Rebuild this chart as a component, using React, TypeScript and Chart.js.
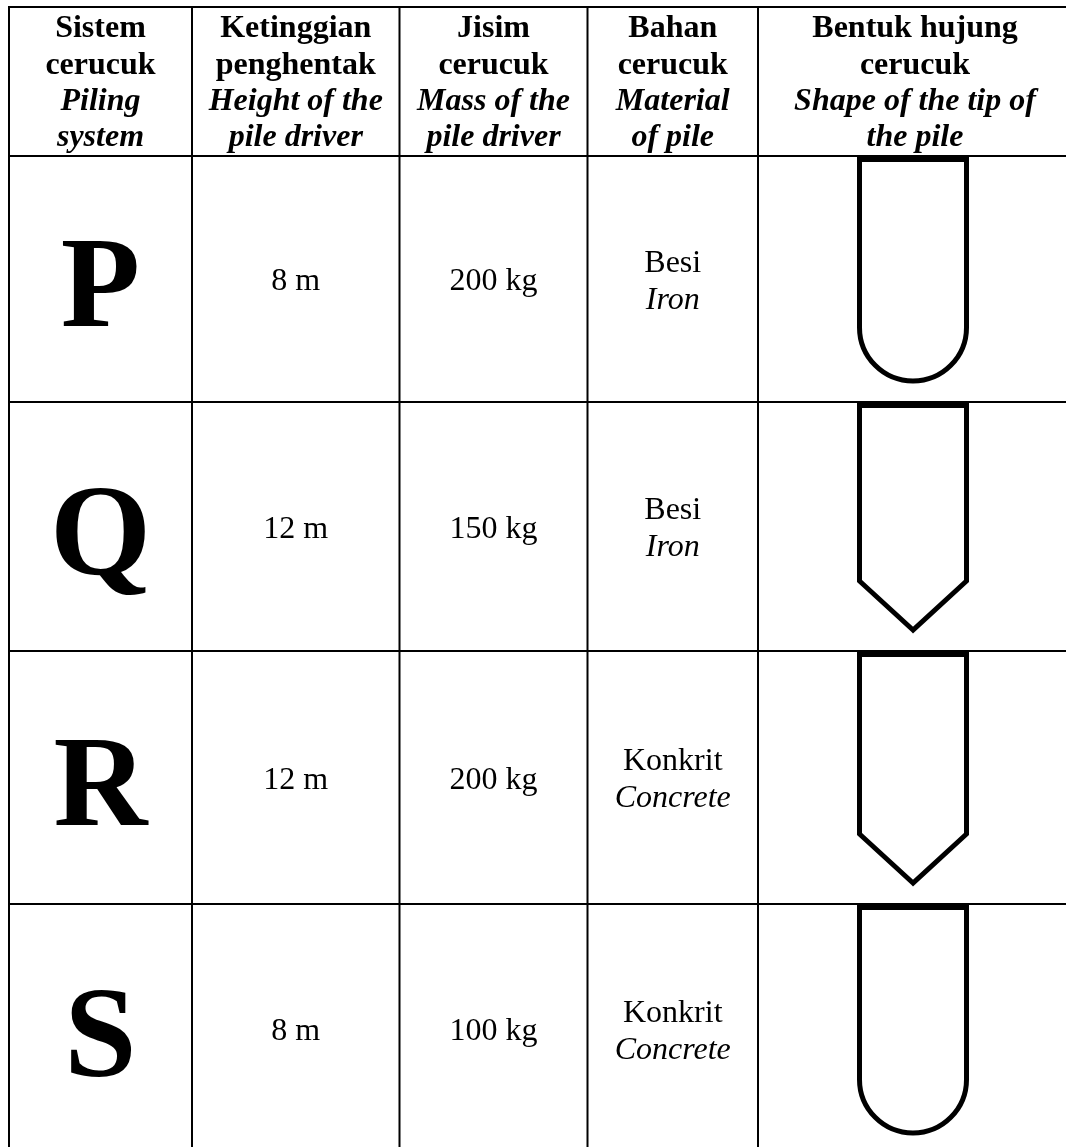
import React, { useEffect, useRef } from "react";
import { Chart, registerables } from "chart.js";

Chart.register(...registerables);

// ---- Data ----
const systems = ["P", "Q", "R", "S"];
const heightsM = [8, 12, 12, 8];
const massesKg = [200, 150, 200, 100];
const materialMs = ["Besi", "Besi", "Konkrit", "Konkrit"];
const materialEn = ["Iron", "Iron", "Concrete", "Concrete"];
const tipShapes = ["round", "pointed", "pointed", "round"];

const headerMs = [
  ["Sistem", "cerucuk"],
  ["Ketinggian", "penghentak"],
  ["Jisim", "cerucuk"],
  ["Bahan", "cerucuk"],
  ["Bentuk hujung", "cerucuk"],
];
const headerEn = [
  ["Piling", "system"],
  ["Height of the", "pile driver"],
  ["Mass of the", "pile driver"],
  ["Material", "of pile"],
  ["Shape of the tip of", "the pile"],
];

// ---- Layout (table units on the hidden linear scales) ----
const W = 1066;
const H = 1147;
const COL_EDGES = [9, 192, 399.5, 587.5, 758, 1072];
const ROW_EDGES = [7, 156, 402, 651, 904, 1154];
const FONT = "'Liberation Serif', 'Times New Roman', serif";

const tablePlugin = {
  id: "tablePlugin",
  afterDraw(chart: any) {
    const ctx = chart.ctx as CanvasRenderingContext2D;
    const xs = chart.scales.x;
    const ys = chart.scales.y;
    const px = (v: number) => xs.getPixelForValue(v);
    const py = (v: number) => ys.getPixelForValue(v);
    ctx.save();
    ctx.fillStyle = "#000";
    ctx.strokeStyle = "#000";

    // grid lines
    ctx.lineWidth = 2;
    ctx.beginPath();
    COL_EDGES.forEach((c) => {
      ctx.moveTo(px(c), py(ROW_EDGES[0]) - 1);
      ctx.lineTo(px(c), py(ROW_EDGES[ROW_EDGES.length - 1]) + 1);
    });
    ROW_EDGES.forEach((r) => {
      ctx.moveTo(px(COL_EDGES[0]) - 1, py(r));
      ctx.lineTo(px(COL_EDGES[COL_EDGES.length - 1]) + 1, py(r));
    });
    ctx.stroke();

    const colCenter = (i: number) => px((COL_EDGES[i] + COL_EDGES[i + 1]) / 2);

    // header
    ctx.textAlign = "center";
    ctx.textBaseline = "alphabetic";
    const headBase = [37, 73.5, 110, 146];
    headerMs.forEach((lines, i) => {
      const all = [...lines.map((t) => ({ t, it: false })), ...headerEn[i].map((t) => ({ t, it: true }))];
      all.forEach((ln, k) => {
        ctx.font = `${ln.it ? "italic " : ""}bold 32px ${FONT}`;
        ctx.fillText(ln.t, colCenter(i), py(headBase[k]));
      });
    });

    // body rows
    systems.forEach((s, r) => {
      const top = ROW_EDGES[r + 1];
      const bot = ROW_EDGES[r + 2];
      const c = (top + bot) / 2;

      ctx.font = `bold 130px ${FONT}`;
      ctx.fillText(s, colCenter(0), py(c + 47));

      ctx.font = `32px ${FONT}`;
      ctx.fillText(`${heightsM[r]} m`, colCenter(1), py(c + 11));
      ctx.fillText(`${massesKg[r]} kg`, colCenter(2), py(c + 11));
      ctx.fillText(materialMs[r], colCenter(3), py(c - 7.5));
      ctx.font = `italic 32px ${FONT}`;
      ctx.fillText(materialEn[r], colCenter(3), py(c + 29.5));

      // pile outline
      const cx = (COL_EDGES[4] + COL_EDGES[5]) / 2 - 2;
      const hw = 53.5;
      const yTop = top + 3.5;
      const yBot = bot - 21;
      ctx.lineWidth = 5;
      ctx.lineJoin = "miter";
      ctx.beginPath();
      if (tipShapes[r] === "round") {
        const arcC = yBot - hw;
        ctx.moveTo(px(cx - hw), py(arcC));
        ctx.lineTo(px(cx - hw), py(yTop));
        ctx.lineTo(px(cx + hw), py(yTop));
        ctx.lineTo(px(cx + hw), py(arcC));
        const rad = px(cx + hw) - px(cx);
        ctx.arc(px(cx), py(arcC), rad, 0, Math.PI, false);
        ctx.closePath();
      } else {
        const chev = 49;
        ctx.moveTo(px(cx), py(yBot));
        ctx.lineTo(px(cx - hw), py(yBot - chev));
        ctx.lineTo(px(cx - hw), py(yTop));
        ctx.lineTo(px(cx + hw), py(yTop));
        ctx.lineTo(px(cx + hw), py(yBot - chev));
        ctx.closePath();
      }
      ctx.stroke();
    });

    ctx.restore();
  },
};

export default function App() {
  const ref = useRef<HTMLCanvasElement | null>(null);
  useEffect(() => {
    if (!ref.current) return;
    const chart = new Chart(ref.current, {
      type: "scatter",
      data: { datasets: [{ data: [], showLine: false }] },
      options: {
        animation: false,
        responsive: false,
        devicePixelRatio: 1,
        layout: { padding: 0 },
        plugins: { legend: { display: false }, tooltip: { enabled: false } },
        scales: {
          x: { type: "linear", min: 0, max: W, display: false },
          y: { type: "linear", min: 0, max: H, reverse: true, display: false },
        },
      },
      plugins: [tablePlugin],
    });
    return () => chart.destroy();
  }, []);
  return (
    <div style={{ position: "fixed", left: 0, top: 0, width: W, height: H, background: "#fff" }}>
      <canvas ref={ref} width={W} height={H} style={{ display: "block" }} />
    </div>
  );
}
